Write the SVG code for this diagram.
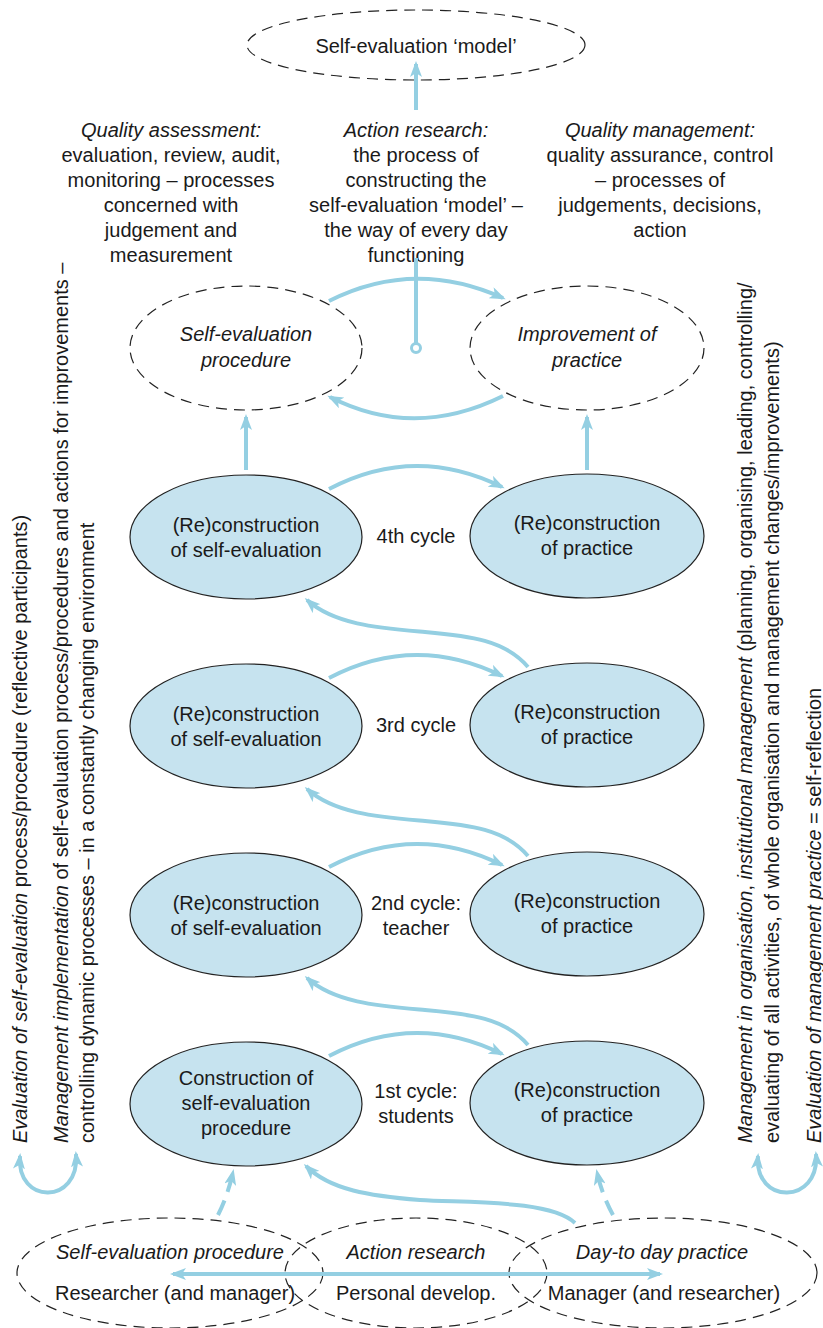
<svg xmlns="http://www.w3.org/2000/svg" width="823" height="1328" viewBox="0 0 823 1328">
<defs>
<style>
text{font-family:"Liberation Sans",Arial,sans-serif;fill:#1a1a1a}
.t{font-size:20px;text-anchor:middle}
.s{font-size:20px}
.i{font-style:italic}
.dash{fill:none;stroke:#222;stroke-width:1.2;stroke-dasharray:11 7}
.fill{fill:#c6e3ef;stroke:#222;stroke-width:1.2}
.c{fill:none;stroke:#94cfe2;stroke-width:4}
.cd{fill:none;stroke:#94cfe2;stroke-width:4;stroke-dasharray:16 9}
</style>
<marker id="ah" markerUnits="userSpaceOnUse" markerWidth="16" markerHeight="12" refX="13" refY="6" orient="auto-start-reverse" viewBox="0 0 16 12">
<path d="M0,0 L16,6 L0,12 L4,6 Z" fill="#94cfe2"/>
</marker>
</defs>

<g id="model">
<ellipse class="dash" cx="416" cy="45" rx="169" ry="35"/>
<text class="t" x="416" y="53">Self-evaluation ‘model’</text>
</g>

<g id="quality-assessment">
<text class="t" x="171" y="137"><tspan class="i">Quality assessment:</tspan><tspan x="171" dy="25">evaluation, review, audit,</tspan><tspan x="171" dy="25">monitoring – processes</tspan><tspan x="171" dy="25">concerned with</tspan><tspan x="171" dy="25">judgement and</tspan><tspan x="171" dy="25">measurement</tspan></text>
</g>
<g id="action-research">
<text class="t" x="416" y="137"><tspan class="i">Action research:</tspan><tspan x="416" dy="25">the process of</tspan><tspan x="416" dy="25">constructing the</tspan><tspan x="416" dy="25">self-evaluation ‘model’ –</tspan><tspan x="416" dy="25">the way of every day</tspan><tspan x="416" dy="25">functioning</tspan></text>
</g>
<g id="quality-management">
<text class="t" x="660" y="137"><tspan class="i">Quality management:</tspan><tspan x="660" dy="25">quality assurance, control</tspan><tspan x="660" dy="25">– processes of</tspan><tspan x="660" dy="25">judgements, decisions,</tspan><tspan x="660" dy="25">action</tspan></text>
</g>

<g id="sep-procedure">
<ellipse class="dash" cx="246" cy="348" rx="116" ry="62"/>
<text class="t i" x="246" y="341">Self-evaluation<tspan x="246" dy="26">procedure</tspan></text>
</g>
<g id="improvement">
<ellipse class="dash" cx="587" cy="348" rx="117" ry="62"/>
<text class="t i" x="587" y="341">Improvement of<tspan x="587" dy="26">practice</tspan></text>
</g>

<g id="c4-left"><ellipse class="fill" cx="246" cy="537" rx="116" ry="62"/><text class="t" x="246" y="532">(Re)construction<tspan x="246" dy="25">of self-evaluation</tspan></text></g>
<g id="c4-right"><ellipse class="fill" cx="587" cy="536" rx="117" ry="62"/><text class="t" x="587" y="530">(Re)construction<tspan x="587" dy="25">of practice</tspan></text></g>
<g id="c4-label"><text class="t" x="416" y="543">4th cycle</text></g>

<g id="c3-left"><ellipse class="fill" cx="246" cy="726" rx="116" ry="62"/><text class="t" x="246" y="721">(Re)construction<tspan x="246" dy="25">of self-evaluation</tspan></text></g>
<g id="c3-right"><ellipse class="fill" cx="587" cy="725" rx="117" ry="62"/><text class="t" x="587" y="719">(Re)construction<tspan x="587" dy="25">of practice</tspan></text></g>
<g id="c3-label"><text class="t" x="416" y="732">3rd cycle</text></g>

<g id="c2-left"><ellipse class="fill" cx="246" cy="915" rx="116" ry="62"/><text class="t" x="246" y="910">(Re)construction<tspan x="246" dy="25">of self-evaluation</tspan></text></g>
<g id="c2-right"><ellipse class="fill" cx="587" cy="914" rx="117" ry="62"/><text class="t" x="587" y="908">(Re)construction<tspan x="587" dy="25">of practice</tspan></text></g>
<g id="c2-label"><text class="t" x="416" y="910">2nd cycle:<tspan x="416" dy="25">teacher</tspan></text></g>

<g id="c1-left"><ellipse class="fill" cx="246" cy="1104" rx="116" ry="62"/><text class="t" x="246" y="1085">Construction of<tspan x="246" dy="25">self-evaluation</tspan><tspan x="246" dy="25">procedure</tspan></text></g>
<g id="c1-right"><ellipse class="fill" cx="587" cy="1103" rx="117" ry="62"/><text class="t" x="587" y="1097">(Re)construction<tspan x="587" dy="25">of practice</tspan></text></g>
<g id="c1-label"><text class="t" x="416" y="1098">1st cycle:<tspan x="416" dy="25">students</tspan></text></g>

<g id="bottom-procedure">
<ellipse class="dash" cx="170" cy="1273" rx="153" ry="55"/>
<text class="t i" x="170" y="1259">Self-evaluation procedure</text>
<text class="t" x="175" y="1300">Researcher (and manager)</text>
</g>
<g id="bottom-action">
<ellipse class="dash" cx="416" cy="1273" rx="131" ry="55"/>
<text class="t i" x="416" y="1259">Action research</text>
<text class="t" x="416" y="1300">Personal develop.</text>
</g>
<g id="bottom-practice">
<ellipse class="dash" cx="663" cy="1273" rx="154" ry="55"/>
<text class="t i" x="662" y="1259">Day-to day practice</text>
<text class="t" x="664" y="1300">Manager (and researcher)</text>
</g>

<g id="side-left">
<text class="s" transform="translate(27,1143) rotate(-90)"><tspan class="i">Evaluation of self-evaluation</tspan> process/procedure  (reflective participants)</text>
<text class="s" transform="translate(68,1143) rotate(-90)"><tspan class="i">Management implementation</tspan> of self-evaluation process/procedures and actions for improvements –</text>
<text class="s" transform="translate(94,1143) rotate(-90)">controlling dynamic processes – in a constantly changing environment</text>
</g>
<g id="side-right">
<text class="s" transform="translate(752,1143) rotate(-90)"><tspan class="i">Management in organisation</tspan>, <tspan class="i">institutional management</tspan>  (planning, organising, leading, controlling/</text>
<text class="s" transform="translate(779,1143) rotate(-90)">evaluating of all activities, of whole organisation and management changes/improvements)</text>
<text class="s" transform="translate(821,1143) rotate(-90)"><tspan class="i">Evaluation of management practice</tspan> = self-reflection</text>
</g>

<g id="connectors">
<path class="c" d="M416,110 L416,64" marker-end="url(#ah)"/>
<path class="c" d="M416,258 L416,344"/>
<circle cx="416" cy="348" r="4.5" fill="#fff" stroke="#94cfe2" stroke-width="3"/>
<path class="c" d="M329,301 Q414,258 503,298" marker-end="url(#ah)"/>
<path class="c" d="M503,396 Q414,440 330,397" marker-end="url(#ah)"/>
<path class="c" d="M246,470 L246,417" marker-end="url(#ah)"/>
<path class="c" d="M587,470 L587,417" marker-end="url(#ah)"/>

<path class="c" d="M329,489 Q415,444 502,487" marker-end="url(#ah)"/>
<path class="c" d="M329,678 Q415,633 502,676" marker-end="url(#ah)"/>
<path class="c" d="M329,867 Q415,822 502,865" marker-end="url(#ah)"/>
<path class="c" d="M329,1056 Q415,1011 502,1054" marker-end="url(#ah)"/>

<path class="c" d="M528,667 C505,640 470,636 425,632 C380,628 335,625 307,600" marker-end="url(#ah)"/>
<path class="c" d="M528,856 C505,829 470,825 425,821 C380,817 335,814 307,789" marker-end="url(#ah)"/>
<path class="c" d="M528,1045 C505,1018 470,1014 425,1010 C380,1006 335,1003 307,978" marker-end="url(#ah)"/>
<path class="c" d="M575,1223 C550,1200 470,1203 420,1200 C370,1196 330,1190 306,1166" marker-end="url(#ah)"/>

<path class="cd" d="M218,1215 Q228,1195 233,1172" marker-end="url(#ah)"/>
<path class="cd" d="M613,1215 Q602,1195 597,1172" marker-end="url(#ah)"/>

<path class="c" d="M173,1274 L660,1274" marker-start="url(#ah)" marker-end="url(#ah)"/>

<path class="c" d="M20,1156 C16,1205 80,1205 76,1154" marker-start="url(#ah)" marker-end="url(#ah)"/>
<path class="c" d="M758,1156 C754,1205 820,1205 816,1154" marker-start="url(#ah)" marker-end="url(#ah)"/>
</g>
</svg>
